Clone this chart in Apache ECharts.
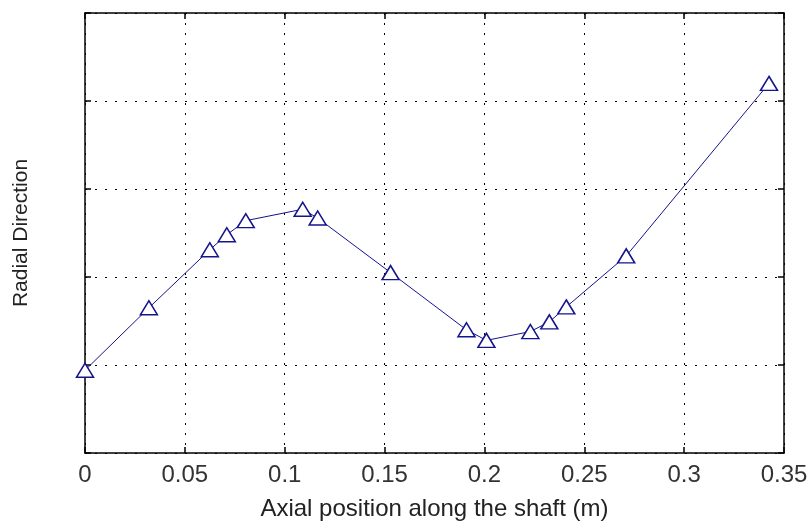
<!DOCTYPE html>
<html>
<head>
<meta charset="utf-8">
<script src="https://cdn.jsdelivr.net/npm/echarts@6/dist/echarts.min.js"></script>
<style>
  html, body { margin: 0; padding: 0; background: #fff; }
  #chart { width: 812px; height: 527px; }
</style>
</head>
<body>
<div id="chart"></div>
<script>
// axial positions (m) and radial displacement (arbitrary units, y axis has no labels)
const axialPos = [0, 0.032, 0.0625, 0.071, 0.0805, 0.109, 0.1165, 0.153, 0.191, 0.201, 0.223, 0.2325, 0.241, 0.271, 0.3425];
const radial = [0.94, 1.65, 2.31, 2.48, 2.64, 2.77, 2.67, 2.05, 1.40, 1.28, 1.38, 1.49, 1.66, 2.24, 4.20];
const xTicks = [0, 0.05, 0.1, 0.15, 0.2, 0.25, 0.3, 0.35];

const lineColor = '#14148c';
const font = 'Liberation Sans';

let myChart = echarts.init(document.getElementById('chart'));

let points = axialPos.map((x, i) => [x, radial[i]]);

let boxAxis = {
  axisLine: { show: true, onZero: false, lineStyle: { color: '#000', width: 1.5 } },
  axisTick: { show: true, inside: true, length: 6, lineStyle: { color: '#000', width: 1.5 } },
  axisLabel: { show: false },
  splitLine: { show: false },
};

let option = {
  animation: false,
  backgroundColor: '#fff',
  grid: { left: 85, right: 28, top: 13, bottom: 74 },
  xAxis: [
    {
      type: 'value',
      min: xTicks[0],
      max: xTicks[xTicks.length - 1],
      interval: 0.05,
      name: 'Axial position along the shaft (m)',
      nameLocation: 'middle',
      nameGap: 44,
      nameTextStyle: { fontFamily: font, fontSize: 24, color: '#222' },
      axisLine: { show: true, onZero: false, lineStyle: { color: '#000', width: 1.5 } },
      axisTick: { show: true, inside: true, length: 6, lineStyle: { color: '#000', width: 1.5 } },
      axisLabel: {
        fontFamily: font,
        fontSize: 24,
        color: '#333',
        margin: 10,
        formatter: v => String(+v.toFixed(2)),
      },
      splitLine: { show: true, lineStyle: { color: '#000', type: [2, 8], width: 1 } },
    },
    Object.assign({ type: 'value', position: 'top', min: 0, max: 0.35, interval: 0.05 }, boxAxis),
  ],
  yAxis: [
    {
      type: 'value',
      min: 0,
      max: 5,
      interval: 1,
      name: 'Radial Direction',
      nameLocation: 'middle',
      nameGap: 53,
      nameTextStyle: { fontFamily: font, fontSize: 21, color: '#222' },
      axisLine: { show: true, onZero: false, lineStyle: { color: '#000', width: 1.5 } },
      axisTick: { show: true, inside: true, length: 6, lineStyle: { color: '#000', width: 1.5 } },
      axisLabel: { show: false },
      splitLine: { show: true, lineStyle: { color: '#000', type: [2, 8], width: 1 } },
    },
    Object.assign({ type: 'value', position: 'right', min: 0, max: 5, interval: 1 }, boxAxis),
  ],
  series: [
    {
      type: 'line',
      data: points,
      symbol: 'triangle',
      symbolSize: [17, 14],
      showAllSymbol: true,
      lineStyle: { color: lineColor, width: 1 },
      itemStyle: { color: '#fff', borderColor: lineColor, borderWidth: 1.5 },
      z: 5,
    },
  ],
};

myChart.setOption(option);
window.onresize = () => { myChart.resize(); };
</script>
</body>
</html>
